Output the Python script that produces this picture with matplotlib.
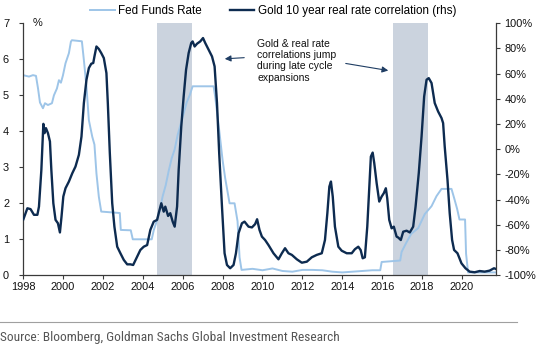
import matplotlib
matplotlib.use("Agg")
import matplotlib.pyplot as plt
from matplotlib import font_manager
from matplotlib.font_manager import FontProperties

plt.rcParams['font.family'] = ['Liberation Sans', 'DejaVu Sans']

# ---------------- data ----------------
fed_years = [1998.0, 1998.3, 1998.5, 1998.65, 1998.75, 1998.85, 1999.0, 1999.1, 1999.25, 1999.45,
             1999.55, 1999.7, 1999.8, 1999.9, 2000.0, 2000.13, 2000.3, 2000.4, 2000.45, 2000.95,
             2001.05, 2001.18, 2001.3, 2001.47, 2001.58, 2001.68, 2001.8, 2001.92, 2002.85, 2002.9,
             2003.4, 2003.5, 2004.45, 2004.55, 2004.7, 2004.85, 2005.0, 2005.15, 2005.3, 2005.45,
             2005.6, 2005.75, 2005.9, 2006.05, 2006.2, 2006.35, 2006.5, 2007.55, 2007.63, 2007.83,
             2008.0, 2008.13, 2008.35, 2008.6, 2008.75, 2008.85, 2008.95, 2009.5, 2010.0, 2010.5,
             2011.0, 2011.5, 2012.0, 2012.5, 2013.0, 2013.5, 2014.0, 2014.5, 2015.0, 2015.5,
             2015.9, 2015.97, 2016.9, 2016.97, 2017.2, 2017.45, 2017.8, 2018.13, 2018.47, 2018.72,
             2018.97, 2019.47, 2019.6, 2019.75, 2019.87, 2020.15, 2020.2, 2020.3, 2021.0, 2021.7]
fed_vals = [5.56, 5.52, 5.56, 5.54, 5.2, 4.8, 4.64, 4.78, 4.73, 4.78,
            5.0, 5.19, 5.42, 5.35, 5.55, 5.89, 6.17, 6.49, 6.53, 6.5,
            5.98, 5.24, 4.31, 3.85, 3.63, 2.83, 2.18, 1.77, 1.73, 1.26,
            1.25, 1.0, 1.0, 1.25, 1.5, 1.8, 2.2, 2.5, 2.9, 3.25,
            3.5, 3.9, 4.2, 4.5, 4.8, 5.0, 5.25, 5.25, 4.96, 4.03,
            3.2, 2.7, 2.0, 2.0, 1.5, 0.5, 0.15, 0.18, 0.14, 0.19,
            0.12, 0.1, 0.15, 0.15, 0.14, 0.1, 0.08, 0.1, 0.12, 0.14,
            0.14, 0.37, 0.41, 0.65, 0.9, 1.15, 1.31, 1.7, 1.92, 2.2,
            2.4, 2.4, 2.15, 1.85, 1.55, 1.55, 0.6, 0.08, 0.08, 0.08]

corr_years = [1998.02, 1998.1, 1998.22, 1998.38, 1998.55, 1998.72, 1998.8, 1998.92, 1999.02, 1999.08,
              1999.15, 1999.25, 1999.35, 1999.42, 1999.52, 1999.63, 1999.75, 1999.85, 1999.93, 2000.02,
              2000.13, 2000.3, 2000.47, 2000.63, 2000.8, 2000.93, 2001.05, 2001.18, 2001.3, 2001.42,
              2001.52, 2001.58, 2001.68, 2001.8, 2001.92, 2002.05, 2002.18, 2002.25, 2002.35, 2002.47,
              2002.58, 2002.72, 2002.88, 2003.05, 2003.22, 2003.38, 2003.52, 2003.72, 2003.88, 2004.05,
              2004.22, 2004.38, 2004.55, 2004.72, 2004.8, 2004.93, 2005.05, 2005.13, 2005.27, 2005.38,
              2005.5, 2005.6, 2005.72, 2005.8, 2005.93, 2006.05, 2006.17, 2006.3, 2006.43, 2006.5,
              2006.6, 2006.72, 2006.88, 2007.02, 2007.13, 2007.3, 2007.47, 2007.6, 2007.72, 2007.83,
              2007.97, 2008.1, 2008.22, 2008.38, 2008.55, 2008.67, 2008.8, 2008.97, 2009.1, 2009.3,
              2009.47, 2009.63, 2009.73, 2009.85, 2009.97, 2010.13, 2010.3, 2010.55, 2010.8, 2010.97,
              2011.13, 2011.3, 2011.47, 2011.72, 2011.97, 2012.22, 2012.47, 2012.72, 2012.97, 2013.13,
              2013.25, 2013.35, 2013.43, 2013.52, 2013.63, 2013.8, 2013.97, 2014.22, 2014.47, 2014.63,
              2014.8, 2014.92, 2015.02, 2015.13, 2015.25, 2015.35, 2015.43, 2015.52, 2015.6, 2015.72,
              2015.85, 2015.97, 2016.08, 2016.18, 2016.25, 2016.35, 2016.47, 2016.58, 2016.72, 2016.8,
              2016.93, 2017.05, 2017.22, 2017.38, 2017.55, 2017.67, 2017.83, 2017.97, 2018.1, 2018.22,
              2018.33, 2018.47, 2018.63, 2018.8, 2018.97, 2019.05, 2019.13, 2019.27, 2019.38, 2019.5,
              2019.6, 2019.77, 2019.97, 2020.17, 2020.38, 2020.63, 2020.88, 2021.13, 2021.38, 2021.6,
              2021.7]
corr_vals = [-55.5, -52, -46.8, -47.5, -52, -52, -45.5, -16.3, 20.2, 12.8,
             16.8, 12.8, 6.2, -16.3, -42.8, -56, -58.7, -66, -53.4, -37.5,
             -30.9, -25.6, -19, -13.7, -4.4, 10.1, 36.7, 55.2, 64.5, 67.9,
             68.5, 73.7, 81.6, 79.6, 76.4, 72.4, 60.5, 36.7, -3, -42.8,
             -61.4, -77.3, -82.5, -87.8, -91.3, -91.3, -91.8, -85.2, -79.9, -77.3,
             -76, -64, -57.4, -56, -50.7, -42.8, -49.5, -45.5, -52.9, -50.7,
             -57.4, -61.4, -45.5, -16.3, 18.1, 41.9, 63.1, 76.4, 84.4, 85.6,
             81.6, 83.8, 85.6, 88.3, 84.4, 79, 73.7, 65.8, 36.7, -3,
             -45.5, -82.5, -91.8, -94.4, -91.8, -82.5, -66.6, -58.7, -57.4, -61.4,
             -62, -59.4, -55.5, -64, -69.3, -72, -76, -82.5, -87.3, -82.5,
             -78.5, -82.5, -83.8, -87.3, -90, -89.2, -85.7, -83.8, -82.5, -72,
             -50.7, -29.6, -25.6, -37.5, -61.4, -77.3, -80.5, -82.5, -82.5, -79.3,
             -77.3, -80, -86.5, -85.7, -61.4, -29.6, -5.8, -2.6, -11, -26.9,
             -41.5, -37.5, -34.8, -30.9, -38.8, -56, -62.7, -61.4, -69.3, -70,
             -72, -65.4, -64.6, -66, -61.4, -45.5, -19, 10.1, 41.9, 55.2,
             56.5, 52.6, 36.7, 30, 24.8, 20.8, 2.2, -24.3, -50.7, -71.9,
             -79.9, -82.5, -90.5, -94.4, -97.1, -97.6, -96.6, -97.1, -96.3, -94.4,
             -95]

shade_periods = [(2004.72, 2006.45), (2016.55, 2018.3)]
left_ticks = [0, 1, 2, 3, 4, 5, 6, 7]
right_ticks = [-100, -80, -60, -40, -20, 0, 20, 40, 60, 80, 100]
x_ticks = [1998, 2000, 2002, 2004, 2006, 2008, 2010, 2012, 2014, 2016, 2018, 2020]

LIGHT = '#9ec5e8'
DARK = '#0d2b50'
SHADE = '#cbd3de'
SPINE = '#3a3a3a'

fig = plt.figure(figsize=(5.5, 3.55), dpi=100)
ax = fig.add_axes([23 / 550, 1 - 275.3 / 355, (496 - 23) / 550, (275.3 - 23.3) / 355])
ax2 = ax.twinx()

for a, b in shade_periods:
    ax.axvspan(a, b, color=SHADE, lw=0, zorder=0)

l1, = ax.plot(fed_years, fed_vals, color=LIGHT, lw=1.4, zorder=2, label='Fed Funds Rate')
l2, = ax2.plot(corr_years, corr_vals, color=DARK, lw=1.7, zorder=3,
               label='Gold 10 year real rate correlation (rhs)')

ax.set_xlim(1998, 2021.7)
ax.set_ylim(0, 7)
ax2.set_ylim(-100, 100)
ax.set_xticks(x_ticks)
ax.set_xticklabels([str(t) for t in x_ticks])
ax.set_yticks(left_ticks)
ax.set_yticklabels([str(t) for t in left_ticks])
ax2.set_yticks(right_ticks)
ax2.set_yticklabels([f'{t}%' for t in right_ticks])

for a in (ax, ax2):
    a.patch.set_visible(False)
    a.spines['top'].set_visible(False)
    for s in ('left', 'right', 'bottom'):
        a.spines[s].set_color(SPINE)
        a.spines[s].set_linewidth(0.9)
    a.tick_params(axis='both', direction='out', length=3, width=0.8, color=SPINE,
                  labelsize=7.9, labelcolor='#111111', pad=2)
ax2.spines['left'].set_visible(False)
ax2.spines['bottom'].set_visible(False)
ax.spines['right'].set_visible(False)
ax.tick_params(axis='y', pad=7)
ax2.tick_params(axis='y', pad=3)

ax.text(1998.5, 7.0, '%', fontsize=7.9, ha='left', va='center', color='#111111')

fig.legend(handles=[l1, l2], loc='center left', bbox_to_anchor=(90 / 550, 1 - 11 / 355),
           ncol=2, frameon=False, fontsize=8.4, handlelength=2.1, handletextpad=0.3,
           columnspacing=2.4, borderaxespad=0, borderpad=0)

ax.text(257 / 550, 1 - 39 / 355, 'Gold & real rate\ncorrelations jump\nduring late cycle\nexpansions',
        transform=fig.transFigure, fontsize=7.5, ha='left', va='top', linespacing=1.15,
        color='#111111')
ax.annotate('', xy=(222 / 550, 1 - 59 / 355), xytext=(247 / 550, 1 - 57.5 / 355),
            xycoords='figure fraction', textcoords='figure fraction',
            arrowprops=dict(arrowstyle='-|>', color='#1f3d63', lw=0.8, mutation_scale=9))
ax.annotate('', xy=(391 / 550, 1 - 71 / 355), xytext=(343 / 550, 1 - 63 / 355),
            xycoords='figure fraction', textcoords='figure fraction',
            arrowprops=dict(arrowstyle='-|>', color='#1f3d63', lw=0.8, mutation_scale=9))

fig.add_artist(plt.Line2D([0, 517 / 550], [1 - 322 / 355, 1 - 322 / 355],
                          transform=fig.transFigure, color='#a0a0a0', lw=0.8))

# pick a condensed font for the source line if one is installed
src_fp = None
entries = font_manager.fontManager.ttflist
prefs = ['Liberation Sans Narrow', 'Roboto Condensed', 'Open Sans Condensed', 'Noto Sans Condensed']
for pname in prefs:
    for f in entries:
        if f.name == pname and f.style == 'normal' and f.weight in (400, 'normal', 'regular'):
            src_fp = FontProperties(fname=f.fname)
            break
    if src_fp is not None:
        break
if src_fp is None:
    for f in entries:
        if (f.stretch in ('condensed', 'semi-condensed', 'extra-condensed')
                and f.style == 'normal' and f.weight in (400, 'normal', 'regular')):
            src_fp = FontProperties(fname=f.fname)
            break
if src_fp is None:
    src_fp = FontProperties(family=['Roboto', 'DejaVu Sans'])
src_fp.set_size(10.5)
src = fig.text(0.0, 1 - 338 / 355, 'Source: Bloomberg, Goldman Sachs Global Investment Research',
               fontproperties=src_fp, color='#555555', ha='left', va='center')
# scale the source line to the reference width (~340 px)
fig.canvas.draw()
w = src.get_window_extent().width
src_fp.set_size(10.5 * 340.0 / w)
src.set_fontproperties(src_fp)

fig.savefig('out.png', dpi=100)
